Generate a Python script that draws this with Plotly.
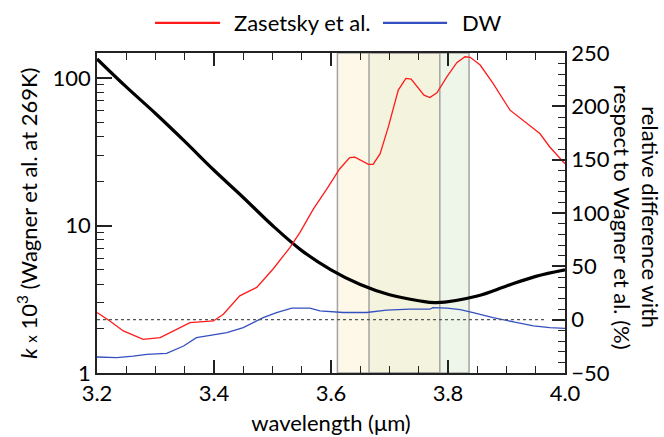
import plotly.graph_objects as go

# ---------------- data ----------------
wl_k = [3.2, 3.25, 3.30, 3.35, 3.40, 3.45, 3.50, 3.55, 3.60, 3.65, 3.70,
        3.75, 3.78, 3.85, 3.90, 3.95, 4.0]
k_wagner = [134.9, 87.1, 57.5, 37.2, 23.7, 15.5, 10.0, 6.76, 5.01, 3.98, 3.39,
            3.09, 3.0, 3.33, 3.89, 4.52, 5.01]

wl_zas = [3.2, 3.222, 3.245, 3.279, 3.308, 3.330, 3.359, 3.399, 3.416, 3.444,
          3.473, 3.501, 3.530, 3.547, 3.570, 3.593, 3.615, 3.632, 3.641, 3.664,
          3.672, 3.684, 3.698, 3.715, 3.728, 3.737, 3.759, 3.769, 3.781, 3.798,
          3.815, 3.829, 3.838, 3.855, 3.877, 3.906, 3.935, 3.957, 3.974, 4.0]
rel_zas = [6.7, -1.2, -10.6, -18.4, -16.9, -10.6, -2.8, -1.2, 5.1, 22.3,
           30.2, 47.5, 67.8, 81.9, 103.9, 122.7, 141.5, 151.9, 152.4, 145.6,
           145.6, 155.6, 180.7, 215.2, 226.2, 225.5, 210.5, 208.3, 212.7, 227.7,
           240.9, 246.5, 246.0, 238.7, 221.5, 196.4, 183.9, 174.5, 161.9, 146.2]

wl_dw = [3.2, 3.234, 3.262, 3.285, 3.319, 3.348, 3.370, 3.399, 3.422, 3.450,
         3.484, 3.507, 3.533, 3.564, 3.581, 3.621, 3.661, 3.695, 3.735, 3.769,
         3.774, 3.798, 3.821, 3.843, 3.877, 3.912, 3.946, 3.974, 4.0]
rel_dw = [-35, -35.6, -34.1, -32.5, -31.6, -24.7, -16.9, -14.3, -12.2, -7.5,
          1.9, 6.6, 10.8, 10.8, 8.2, 6.7, 6.7, 8.9, 9.8, 9.8,
          11.3, 10.8, 9.5, 6.7, 1.9, -2.1, -5.9, -7.5, -8.1]

ref_x = [3.2, 3.966]
ref_level = [0, 0]

band_a = (3.611, 3.786)
band_b = (3.665, 3.836)

x_ticks = [3.2, 3.4, 3.6, 3.8, 4.0]
x_ticklabels = ["3.2", "3.4", "3.6", "3.8", "4.0"]
y_ticks = [1, 10, 100]
y_minor = [m * d for d in (1, 10, 100) for m in range(2, 10)]
y2_ticks = [-50, 0, 50, 100, 150, 200, 250]

series_names = ["Zasetsky et al.", "DW"]
series_colors = ["#ff1a1a", "#3450c0"]

FONT = "Lato"
FS = 22

fig = go.Figure()

fig.add_trace(go.Scatter(x=wl_zas, y=rel_zas, yaxis="y2", mode="lines",
                         line=dict(color=series_colors[0], width=1.3),
                         name=series_names[0], showlegend=False))
fig.add_trace(go.Scatter(x=wl_dw, y=rel_dw, yaxis="y2", mode="lines",
                         line=dict(color=series_colors[1], width=1.3),
                         name=series_names[1], showlegend=False))
fig.add_trace(go.Scatter(x=ref_x, y=ref_level, yaxis="y2", mode="lines",
                         line=dict(color="#555555", width=1.2, dash="3px,3px"),
                         showlegend=False, hoverinfo="skip"))
fig.add_trace(go.Scatter(x=wl_k, y=k_wagner, mode="lines",
                         line=dict(color="black", width=3.2, shape="spline"),
                         showlegend=False))

# shaded bands
lo = max(band_a[0], band_b[0])
hi = min(band_a[1], band_b[1])
rects = [
    (band_a[0], lo, "#fdf8e8"),
    (lo, hi, "#f4f3dd"),
    (hi, band_b[1], "#eef5e9"),
]
for x0, x1, col in rects:
    fig.add_shape(type="rect", xref="x", yref="paper", x0=x0, x1=x1, y0=0, y1=1,
                  fillcolor=col, line=dict(width=0), layer="below")
for b in (band_a, band_b):
    fig.add_shape(type="rect", xref="x", yref="paper", x0=b[0], x1=b[1], y0=0, y1=1,
                  fillcolor="rgba(0,0,0,0)", line=dict(color="#a3a3a3", width=1.5),
                  layer="below")

# manual legend (long line samples as in the reference)
leg_y = 1.094
leg_items = [(0.124, 0.263, 0.288), (0.611, 0.748, 0.776)]
for (x0, x1, xt), name, col in zip(leg_items, series_names, series_colors):
    fig.add_shape(type="line", xref="paper", yref="paper", x0=x0, x1=x1,
                  y0=leg_y, y1=leg_y, line=dict(color=col, width=2.2))
    fig.add_annotation(text=name, xref="paper", yref="paper", x=xt, y=leg_y,
                       xanchor="left", yanchor="middle", showarrow=False,
                       font=dict(family=FONT, size=22, color="black"))

axis_common = dict(showgrid=False, zeroline=False, showline=True,
                   linecolor="#222222", linewidth=1.5, ticks="inside",
                   tickcolor="#222222", tickwidth=1.5, automargin=False,
                   tickfont=dict(family=FONT, size=FS, color="black"))

fig.update_layout(
    width=664, height=437,
    margin=dict(l=97, r=99, t=53, b=64),
    paper_bgcolor="white", plot_bgcolor="white",
    font=dict(family=FONT, size=FS, color="black"),
    showlegend=False,
    xaxis=dict(range=[3.2, 4.0], tickvals=x_ticks, ticktext=x_ticklabels,
               ticklen=13, mirror="ticks",
               minor=dict(dtick=0.05, ticks="inside", ticklen=7,
                          tickcolor="#222222", tickwidth=1.2, showgrid=False),
               title=dict(text="wavelength (μm)", font=dict(family=FONT, size=FS),
                          standoff=10),
               **axis_common),
    yaxis=dict(type="log", range=[0, 2.17], tickvals=y_ticks,
               ticktext=["1", "10", "100"], ticklen=15,
               minor=dict(tickvals=y_minor, ticks="inside", ticklen=7,
                          tickcolor="#222222", tickwidth=1.2, showgrid=False),
               **axis_common),
    yaxis2=dict(overlaying="y", side="right", range=[-50, 250],
                tickvals=y2_ticks, ticklen=13,
                minor=dict(dtick=10, ticks="inside", ticklen=7,
                           tickcolor="#222222", tickwidth=1.2, showgrid=False),
                **axis_common),
)

fig.add_annotation(
    text="<i>k</i> <span style='font-size:15px'>x</span> 10<sup>3</sup> (Wagner et al. at 269K)",
    xref="paper", yref="paper", x=-0.15, y=0.5, xanchor="center", yanchor="middle",
    textangle=-90, showarrow=False, font=dict(family=FONT, size=FS, color="black"))
fig.add_annotation(
    text="relative difference with<br>respect to Wagner et al. (%)",
    xref="paper", yref="paper", x=1.152, y=0.4875, xanchor="center", yanchor="middle",
    textangle=90, showarrow=False, font=dict(family=FONT, size=FS, color="black"))

fig.write_html("out.html",
               config={"displayModeBar": False},
               post_script="document.body.style.margin='0px';"
                           "document.body.style.overflow='hidden';")
